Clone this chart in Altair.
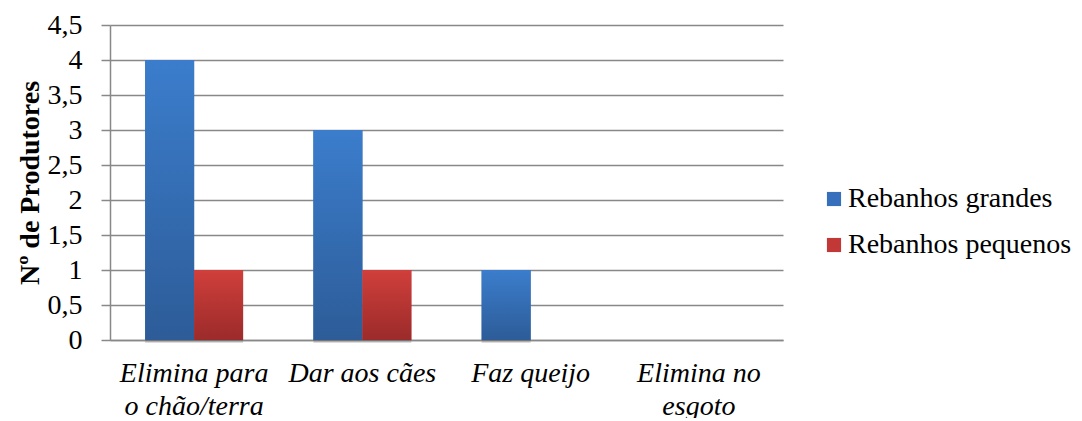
import altair as alt
import pandas as pd

categories = ["Elimina para o chão/terra", "Dar aos cães", "Faz queijo", "Elimina no esgoto"]
category_lines = [["Elimina para", "o chão/terra"], ["Dar aos cães"], ["Faz queijo"], ["Elimina no", "esgoto"]]
series = ["Rebanhos grandes", "Rebanhos pequenos"]
grandes = [4, 3, 1, 0]
pequenos = [1, 1, 0, 0]
y_ticks = [0, 0.5, 1, 1.5, 2, 2.5, 3, 3.5, 4, 4.5]

rows = []
for c, g, p in zip(categories, grandes, pequenos):
    rows.append({"categoria": c, "serie": series[0], "valor": g})
    rows.append({"categoria": c, "serie": series[1], "valor": p})
df = pd.DataFrame(rows)

FONT = "'Liberation Serif', 'Times New Roman', Times, serif"
FS = 28

# multi-line label expression
parts = []
for c, lines in zip(categories, category_lines):
    arr = "[" + ",".join("'" + l + "'" for l in lines) + "]"
    parts.append(f"datum.value == '{c}' ? {arr} : ")
label_expr = "".join(parts) + "datum.value"

x_enc = alt.X(
    "categoria:N",
    sort=categories,
    scale=alt.Scale(domain=categories, paddingInner=0.418, paddingOuter=0.209),
    axis=alt.Axis(
        title=None, labelAngle=0, labelFont=FONT, labelFontSize=FS, labelFontStyle="italic",
        labelColor="black", labelPadding=19, labelLineHeight=33, labelExpr=label_expr,
        ticks=False, domainColor="#888888", domainWidth=1.5, grid=False, labelLimit=300,
    ),
)
xo_enc = alt.XOffset("serie:N", sort=series, scale=alt.Scale(domain=series, paddingInner=0, paddingOuter=0))
y_enc = alt.Y(
    "valor:Q",
    scale=alt.Scale(domain=[0, 4.5], nice=False),
    axis=alt.Axis(
        values=y_ticks, labelExpr="replace(toString(datum.value), '.', ',')",
        labelFont=FONT, labelFontSize=FS, labelColor="black", labelPadding=19,
        tickSize=9, tickColor="#888888", tickWidth=1.5, domainColor="#888888", domainWidth=1.5,
        gridColor="#888888", gridWidth=1.5,
        title="Nº de Produtores", titleFont=FONT, titleFontSize=FS, titleFontWeight="bold",
        titleColor="black", titleAngle=-90, titleX=-80, titleY=157.5, titleAlign="center",
        titleBaseline="middle",
    ),
)

base = alt.Chart(df).mark_bar().encode(
    x=x_enc, xOffset=xo_enc, y=y_enc,
    color=alt.Color(
        "serie:N",
        scale=alt.Scale(domain=series, range=["#3670bd", "#c23836"]),
        legend=alt.Legend(
            title=None, orient="none", legendX=710, legendY=160, symbolType="square",
            symbolSize=200, symbolStrokeWidth=0, labelFont=FONT, labelFontSize=FS,
            labelColor="black", rowPadding=18, labelOffset=0, labelLimit=400,
        ),
    ),
)

shadow_a = alt.Chart(df).mark_bar(color="#000000", opacity=0.07, xOffset=2, yOffset=3).encode(
    x=x_enc, xOffset=xo_enc, y=y_enc)
shadow_b = alt.Chart(df).mark_bar(color="#000000", opacity=0.07, xOffset=-2, yOffset=3).encode(
    x=x_enc, xOffset=xo_enc, y=y_enc)

grad_blue = alt.Gradient(gradient="linear", x1=0, x2=0, y1=0, y2=1,
                         stops=[alt.GradientStop(color="#3b7dcc", offset=0),
                                alt.GradientStop(color="#2d5c98", offset=1)])
grad_red = alt.Gradient(gradient="linear", x1=0, x2=0, y1=0, y2=1,
                        stops=[alt.GradientStop(color="#d03f3b", offset=0),
                               alt.GradientStop(color="#9b2b2a", offset=1)])

blue = alt.Chart(df).transform_filter(alt.datum.serie == series[0]).mark_bar(fill=grad_blue).encode(
    x=x_enc, xOffset=xo_enc, y=y_enc)
red = alt.Chart(df).transform_filter(alt.datum.serie == series[1]).mark_bar(fill=grad_red).encode(
    x=x_enc, xOffset=xo_enc, y=y_enc)

chart = alt.layer(shadow_a, shadow_b, base, blue, red).properties(
    width=673, height=315,
    autosize=alt.AutoSizeParams(type="none"),
    padding={"left": 102, "top": 17, "right": 291, "bottom": 78},
).configure_view(stroke=None)

chart.save("out.html", embed_options={"renderer": "svg", "actions": False})
